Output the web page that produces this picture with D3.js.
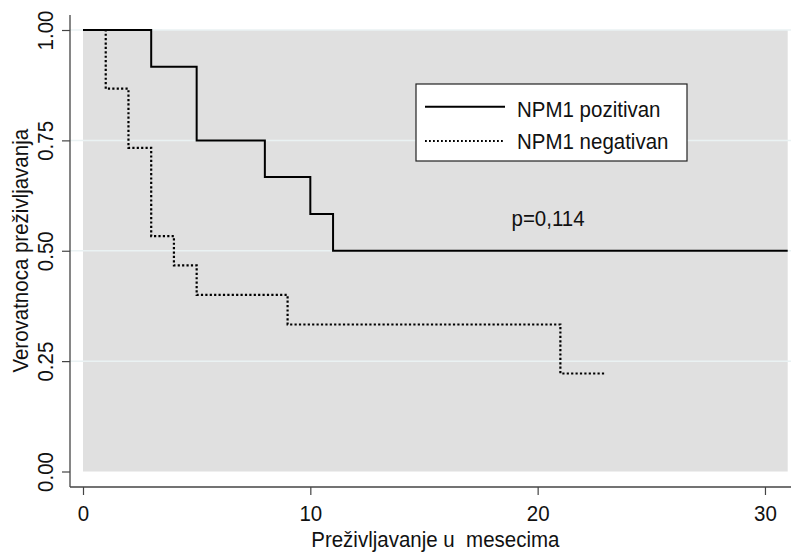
<!DOCTYPE html>
<html>
<head>
<meta charset="utf-8">
<script src="https://cdn.jsdelivr.net/npm/d3@7"></script>
<style>
  html, body { margin: 0; padding: 0; background: #fff; }
  svg text { font-family: "Liberation Sans", Arial, sans-serif; fill: #111; }
</style>
</head>
<body>
<svg id="chart" width="791" height="552"></svg>
<script>
// ---- data ----
const posTimes = [0, 3, 5, 8, 10, 11, 31];
const posSurv  = [1.0, 0.917, 0.75, 0.667, 0.583, 0.5, 0.5];
const negTimes = [0, 1, 2, 3, 4, 5, 9, 21, 23];
const negSurv  = [1.0, 0.867, 0.733, 0.533, 0.467, 0.4, 0.333, 0.222, 0.222];
const seriesNames = ["NPM1 pozitivan", "NPM1 negativan"];
const xTicks = [0, 10, 20, 30];
const yTicks = [0, 0.25, 0.5, 0.75, 1.0];
const yGrid = [0.25, 0.5, 0.75, 1.0];
const xTitle = "Preživljavanje u\u00a0 mesecima";
const yTitle = "Verovatnoca preživljavanja";
const pText = "p=0,114";

// ---- layout ----
const svg = d3.select("#chart");
const W = 791, H = 552;
const axisX = 70, axisY = 487;
const FS = 20.5, SY = 1.12;
const x = d3.scaleLinear().domain([0, 31]).range([83, 787.7]);
const y = d3.scaleLinear().domain([0, 1]).range([471.5, 30]);

function label(px, py, txt, anchor, rot) {
  return svg.append("text")
    .attr("transform", `translate(${px},${py})${rot ? " rotate(" + rot + ")" : ""} scale(1,${SY})`)
    .attr("text-anchor", anchor || "start")
    .attr("font-size", FS).text(txt);
}

// plot region background
svg.append("rect")
  .attr("x", x(0)).attr("y", y(1))
  .attr("width", x(31) - x(0)).attr("height", y(0) - y(1))
  .attr("fill", "#e0e0e0");

// gridlines
svg.append("g").selectAll("line").data(yGrid).join("line")
  .attr("x1", axisX).attr("x2", W)
  .attr("y1", d => y(d)).attr("y2", d => y(d))
  .attr("stroke", "#eaf2f3").attr("stroke-width", 1.5);

// axes
const yAxis = d3.axisLeft(y).tickValues(yTicks).tickFormat(d3.format(".2f")).tickSize(8);
const gy = svg.append("g").attr("transform", `translate(${axisX},0)`).call(yAxis);
gy.select(".domain").remove();
gy.selectAll(".tick line").attr("stroke", "#444").attr("stroke-width", 1.2);
gy.selectAll(".tick text")
  .attr("font-size", FS).attr("fill", "#111")
  .attr("x", null).attr("y", null).attr("dy", null)
  .attr("transform", `translate(-17,0) rotate(-90) scale(1,${SY})`)
  .attr("text-anchor", "middle");

const xAxis = d3.axisBottom(x).tickValues(xTicks).tickFormat(d3.format("d")).tickSize(8);
const gx = svg.append("g").attr("transform", `translate(0,${axisY})`).call(xAxis);
gx.select(".domain").remove();
gx.selectAll(".tick line").attr("stroke", "#444").attr("stroke-width", 1.2);
gx.selectAll(".tick text").attr("font-size", FS).attr("fill", "#111")
  .attr("y", null).attr("dy", null)
  .attr("transform", `translate(0,34) scale(1,1.08)`);

svg.append("line").attr("x1", axisX).attr("x2", axisX).attr("y1", 15).attr("y2", axisY)
  .attr("stroke", "#444").attr("stroke-width", 1.3);
svg.append("line").attr("x1", axisX).attr("x2", W).attr("y1", axisY).attr("y2", axisY)
  .attr("stroke", "#444").attr("stroke-width", 1.3);

// axis titles
label((x(0) + x(31)) / 2, 546.5, xTitle, "middle");
label(28, (y(0) + y(1)) / 2, yTitle, "middle", -90);

// survival curves
const line = d3.line().x(d => x(d[0])).y(d => y(d[1])).curve(d3.curveStepAfter);
const posData = posTimes.map((t, i) => [t, posSurv[i]]);
const negData = negTimes.map((t, i) => [t, negSurv[i]]);

svg.append("path").datum(negData).attr("d", line)
  .attr("fill", "none").attr("stroke", "#000").attr("stroke-width", 2.2)
  .attr("stroke-dasharray", "2.2,2.2");
svg.append("path").datum(posData).attr("d", line)
  .attr("fill", "none").attr("stroke", "#000").attr("stroke-width", 2);

// legend
const lg = svg.append("g");
lg.append("rect").attr("x", 416).attr("y", 84).attr("width", 271).attr("height", 77)
  .attr("fill", "#fff").attr("stroke", "#222").attr("stroke-width", 1.2);
const legY = [106.7, 141];
const legBase = [116.5, 149];
seriesNames.forEach((name, i) => {
  lg.append("line").attr("x1", 425).attr("x2", 505).attr("y1", legY[i]).attr("y2", legY[i])
    .attr("stroke", "#000").attr("stroke-width", i === 0 ? 2 : 1.8)
    .attr("stroke-dasharray", i === 0 ? null : "1.8,2.2");
  label(517, legBase[i], name, "start");
});

// p-value
label(511.5, 226, pText, "start");
</script>
</body>
</html>
